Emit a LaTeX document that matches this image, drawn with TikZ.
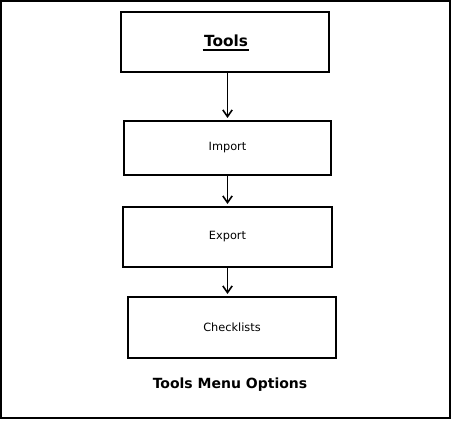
\documentclass[tikz,border=0pt]{standalone}
\usepackage{fontspec}
\setmainfont{DejaVu Sans}
\usetikzlibrary{positioning,arrows.meta}

\tikzset{every picture/.style={line width=0.75pt}}
\tikzset{menubox/.style={draw,line width=1.5pt,inner sep=0.75pt,font=\fontsize{8.5}{10}\selectfont}}
\tikzset{flow/.style={line width=1.2pt,-{Straight Barb[length=5pt,width=7pt]},shorten >=1.5pt}}

\begin{document}
\begin{tikzpicture}[x=0.75pt,y=0.75pt,yscale=-1,xscale=1]
    \useasboundingbox (0,0) rectangle (452,420); %set diagram to the frame
    
    %Frame 
    \draw[line width=1.5pt] (1,1) rectangle (450,418) ;
    
    %Boxes
    \node [menubox,minimum width=208*0.75pt,minimum height=60*0.75pt] (tools) at (225,42) {};
    \node [menubox,minimum width=207*0.75pt,minimum height=54*0.75pt] (import) at (227.5,148) {Import};
    \node [menubox,minimum width=209*0.75pt,minimum height=60*0.75pt] (export) at (227.5,237) {Export};
    \node [menubox,minimum width=208*0.75pt,minimum height=61*0.75pt] (checklists) at (232,327.5) {Checklists};
    
    % Text Node
    \node [inner sep=0.75pt,font=\fontsize{11.5}{13}\selectfont\bfseries] (toolstitle) at (226,41) {Tools};
    %Underline
    \draw [line width=1.5pt] ([yshift=1.5pt]toolstitle.south west) -- ([yshift=1.5pt]toolstitle.south east) ;
    
    %Straight Lines
    \draw [flow] (import.north |- tools.south) -- (import.north) ;
    \draw [flow] (export.north |- import.south) -- (export.north) ;
    \draw [flow] (export.south) -- (export.south |- checklists.north) ;
    
    % Text Node
    \node [inner sep=0.75pt,font=\fontsize{10.5}{12}\selectfont\bfseries] (caption) at (230,385) {Tools Menu Options};
    
\end{tikzpicture}
\end{document}
